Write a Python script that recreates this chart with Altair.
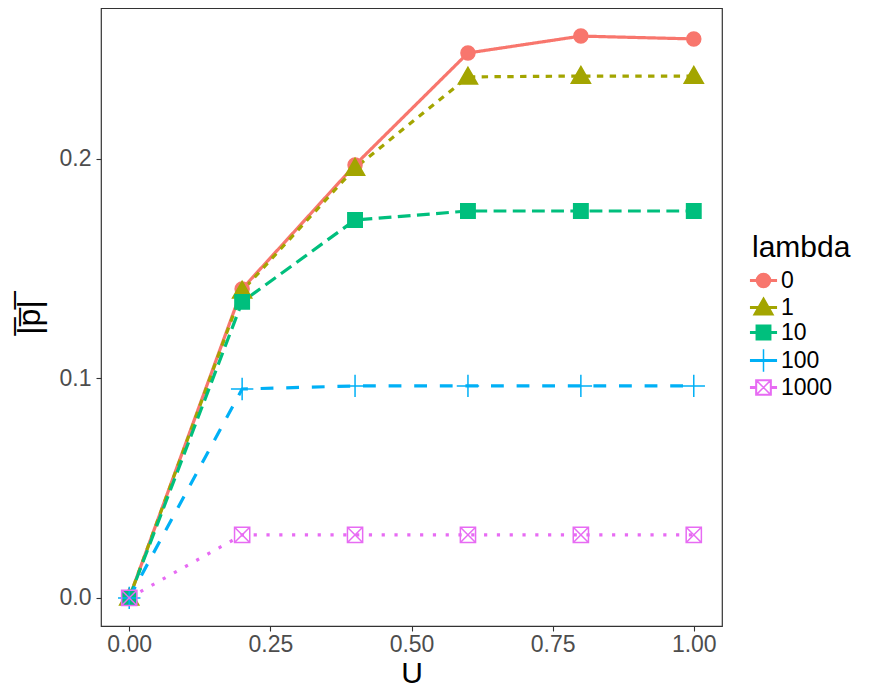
import altair as alt
import pandas as pd

u_values = [0.0, 0.2, 0.4, 0.6, 0.8, 1.0]
lambdas = ["0", "1", "10", "100", "1000"]
p_lambda_0 = [0.0, 0.1408, 0.1973, 0.2483, 0.2560, 0.2547]
p_lambda_1 = [0.0, 0.1399, 0.1959, 0.2374, 0.2378, 0.2378]
p_lambda_10 = [0.0, 0.1349, 0.1722, 0.1763, 0.1763, 0.1763]
p_lambda_100 = [0.0, 0.0952, 0.0966, 0.0966, 0.0966, 0.0966]
p_lambda_1000 = [0.0, 0.0287, 0.0287, 0.0287, 0.0287, 0.0287]

series = [p_lambda_0, p_lambda_1, p_lambda_10, p_lambda_100, p_lambda_1000]
rows = []
for lam, vals in zip(lambdas, series):
    for u, p in zip(u_values, vals):
        rows.append({"U": u, "p": p, "lambda": lam, "lambda_dash": lam, "lambda_key": lam})
df = pd.DataFrame(rows)

colors = ["#F8766D", "#A3A500", "#00BF7D", "#00B0F6", "#E76BF3"]
fills = ["#F8766D", "#A3A500", "#00BF7D", "transparent", "transparent"]
dashes = [[1, 0], [6.4, 6.4], [12.8, 6.4], [12.8, 12.8], [3.2, 9.6]]
shapes = [
    "M-0.875,0A0.875,0.875 0 1,1 0.875,0A0.875,0.875 0 1,1 -0.875,0Z",
    "M0,-1.2L1.2,0.9L-1.2,0.9Z",
    "M-0.9,-0.9H0.9V0.9H-0.9Z",
    "M-1.4,0H1.4M0,-1.4V1.4",
    "M-0.95,-0.95H0.95V0.95H-0.95ZM-0.95,-0.95L0.95,0.95M-0.95,0.95L0.95,-0.95",
]
stub = "M-1.6,-0.1H1.6V0.1H-1.6Z"
key_shapes = [
    shapes[0] + stub,
    shapes[1] + stub,
    shapes[2] + stub,
    stub + "M0,-1.4V1.4",
    "M-0.95,-0.95H0.95V0.95H-0.95ZM-0.88,-0.88V0.88H0.88V-0.88Z"
    "M-0.95,-0.95L0.95,0.95M-0.95,0.95L0.95,-0.95"
    "M-1.6,-0.1H-0.95V0.1H-1.6ZM0.95,-0.1H1.6V0.1H0.95Z",
]

xscale = alt.Scale(domain=[-0.05, 1.05], nice=False, zero=False)
yscale = alt.Scale(domain=[-0.0128, 0.2688], nice=False, zero=False)

xenc = alt.X("U:Q", scale=xscale, title="U",
             axis=alt.Axis(values=[0, 0.25, 0.5, 0.75, 1.0], format=".2f"))
yenc = alt.Y("p:Q", scale=yscale, title="|\u0305p\u0305|\u0305",
             axis=alt.Axis(values=[0, 0.1, 0.2], format=".1f"))

key_legend = alt.Legend(title="lambda", orient="none", legendX=651, legendY=225,
                        rowPadding=1, titleFontSize=30, labelFontSize=23, titlePadding=6,
                        titleFont="Liberation Sans", labelFont="Liberation Sans",
                        titleFontWeight="normal", labelOffset=6, padding=0,
                        symbolSize=256, symbolStrokeWidth=1.5,
                        titleColor="black", labelColor="black")

lines = alt.Chart(df).mark_line(strokeWidth=3.2).encode(
    x=xenc, y=yenc,
    stroke=alt.Stroke("lambda:N", scale=alt.Scale(domain=lambdas, range=colors), legend=None),
    strokeDash=alt.StrokeDash("lambda_dash:N", scale=alt.Scale(domain=lambdas, range=dashes), legend=None),
)

points = alt.Chart(df).mark_point(opacity=1, strokeWidth=1.5, size=256).encode(
    x=xenc, y=yenc,
    stroke=alt.Stroke("lambda:N", scale=alt.Scale(domain=lambdas, range=colors), legend=None),
    fill=alt.Fill("lambda:N", scale=alt.Scale(domain=lambdas, range=fills), legend=None),
    shape=alt.Shape("lambda:N", scale=alt.Scale(domain=lambdas, range=shapes), legend=None),
)

keys = alt.Chart(df).transform_filter("false").mark_point(opacity=1, strokeWidth=1.5, size=256).encode(
    x=xenc, y=yenc,
    stroke=alt.Stroke("lambda_key:N", scale=alt.Scale(domain=lambdas, range=colors), legend=key_legend),
    fill=alt.Fill("lambda_key:N", scale=alt.Scale(domain=lambdas, range=colors), legend=key_legend),
    shape=alt.Shape("lambda_key:N", scale=alt.Scale(domain=lambdas, range=key_shapes), legend=key_legend),
)

chart = alt.layer(lines, points, keys).resolve_scale(
    stroke="independent", fill="independent", shape="independent"
).properties(
    width=621, height=618,
    autosize=alt.AutoSizeParams(type="none"),
    padding={"left": 93, "top": 0, "right": 142, "bottom": 62},
).configure_view(
    stroke="#333333", strokeWidth=1.2
).configure_axis(
    grid=False, domain=False,
    tickColor="#333333", tickSize=5, tickWidth=1.1,
    labelFont="Liberation Sans", labelFontSize=23, labelColor="#4D4D4D",
    titleFont="Liberation Sans", titleFontSize=30, titleColor="black",
    titleFontWeight="normal",
).configure_axisX(
    labelPadding=2, titlePadding=2
).configure_axisY(
    labelPadding=5, titlePadding=13, titleFontSize=32
)

chart.save("out.html", embed_options={"renderer": "svg", "actions": False})
